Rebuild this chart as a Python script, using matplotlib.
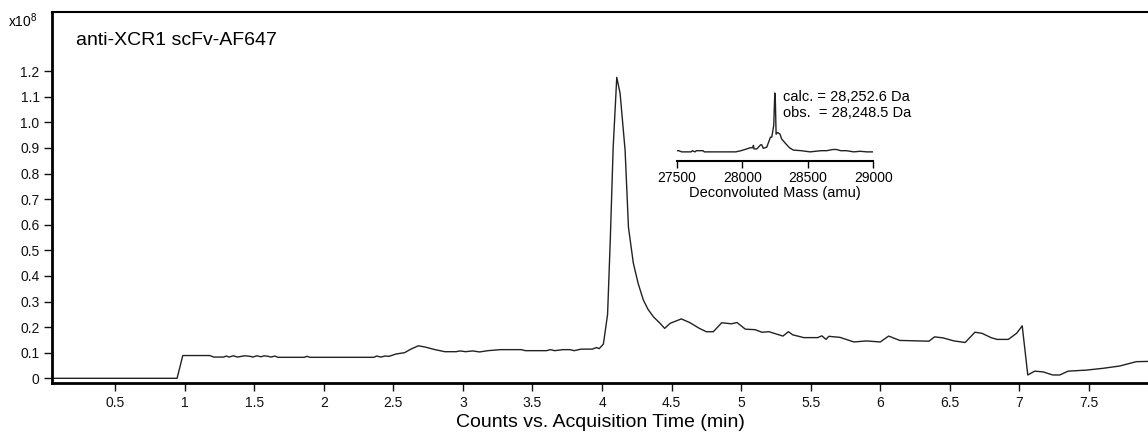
import numpy as np
import matplotlib
matplotlib.use("Agg")
import matplotlib.pyplot as plt

plt.rcParams['font.family'] = ['Liberation Sans', 'DejaVu Sans']
plt.rcParams['mathtext.default'] = 'regular'

# chromatogram (time in min, counts in 1e8)
tempo = [0.047, 0.946, 0.987, 1.18, 1.21, 1.28, 1.30, 1.32, 1.35, 1.38, 1.43, 1.47, 1.49,
         1.52, 1.55, 1.57, 1.60, 1.62, 1.65, 1.67, 1.86, 1.88, 1.90, 2.36, 2.38, 2.41, 2.44,
         2.47, 2.52, 2.58, 2.63, 2.68, 2.73, 2.80, 2.87, 2.95, 2.98, 3.02, 3.07, 3.12, 3.18,
         3.27, 3.42, 3.45, 3.60, 3.63, 3.66, 3.72, 3.77, 3.80, 3.85, 3.93, 3.96, 3.98, 4.01,
         4.04, 4.06, 4.08, 4.106, 4.13, 4.166, 4.19, 4.225, 4.26, 4.297, 4.33, 4.37, 4.417,
         4.45, 4.49, 4.57, 4.63, 4.70, 4.75, 4.80, 4.86, 4.93, 4.97, 5.03, 5.10, 5.15, 5.20,
         5.30, 5.34, 5.37, 5.45, 5.55, 5.58, 5.61, 5.63, 5.71, 5.81, 5.90, 6.00, 6.06, 6.14,
         6.35, 6.39, 6.45, 6.53, 6.61, 6.68, 6.73, 6.80, 6.84, 6.92, 6.98, 7.02, 7.06, 7.11,
         7.17, 7.24, 7.29, 7.35, 7.48, 7.60, 7.72, 7.84, 7.924]
conteggi = [0.0, 0.0, 0.089, 0.089, 0.083, 0.083, 0.087, 0.083, 0.088, 0.083, 0.088, 0.086, 0.083,
            0.088, 0.084, 0.088, 0.086, 0.083, 0.087, 0.082, 0.082, 0.086, 0.082, 0.082, 0.087, 0.083, 0.087,
            0.086, 0.095, 0.100, 0.115, 0.127, 0.122, 0.112, 0.104, 0.104, 0.107, 0.104, 0.107, 0.103, 0.108,
            0.112, 0.112, 0.108, 0.108, 0.112, 0.108, 0.112, 0.112, 0.108, 0.114, 0.114, 0.120, 0.116, 0.134,
            0.25, 0.55, 0.90, 1.176, 1.113, 0.89, 0.59, 0.45, 0.37, 0.306, 0.27, 0.24, 0.215,
            0.195, 0.215, 0.232, 0.218, 0.195, 0.182, 0.182, 0.217, 0.213, 0.218, 0.192, 0.190, 0.180, 0.182,
            0.165, 0.182, 0.170, 0.159, 0.159, 0.166, 0.152, 0.164, 0.160, 0.142, 0.146, 0.142, 0.165, 0.148,
            0.145, 0.162, 0.158, 0.146, 0.140, 0.180, 0.176, 0.158, 0.152, 0.152, 0.176, 0.205, 0.013, 0.028,
            0.025, 0.013, 0.013, 0.028, 0.032, 0.039, 0.048, 0.065, 0.066]

# deconvoluted spectrum (relative intensity)
massa = [27500, 27515, 27538, 27610, 27620, 27640, 27650, 27700, 27711, 27950, 27990, 28034, 28060,
         28080, 28085, 28090, 28111, 28140, 28149, 28160, 28187, 28215, 28225, 28240, 28248, 28252,
         28258, 28270, 28288, 28300, 28327, 28360, 28390, 28450, 28517, 28600, 28644, 28690, 28720,
         28750, 28796, 28850, 28898, 28950, 29000]
intensita = [0.02, 0.02, 0.0, 0.0, 0.02, 0.0, 0.02, 0.02, 0.0, 0.0, 0.02, 0.05, 0.07,
             0.07, 0.11, 0.05, 0.05, 0.12, 0.12, 0.06, 0.08, 0.25, 0.25, 0.45, 1.0, 0.9,
             0.3, 0.33, 0.3, 0.22, 0.15, 0.07, 0.03, 0.02, 0.0, 0.02, 0.02, 0.04, 0.04,
             0.02, 0.02, 0.0, 0.01, 0.0, 0.0]

tick_x = [0.5, 1, 1.5, 2, 2.5, 3, 3.5, 4, 4.5, 5, 5.5, 6, 6.5, 7, 7.5]
etichette_x = ['0.5', '1', '1.5', '2', '2.5', '3', '3.5', '4', '4.5', '5', '5.5', '6', '6.5', '7', '7.5']
tick_y = [0, 0.1, 0.2, 0.3, 0.4, 0.5, 0.6, 0.7, 0.8, 0.9, 1.0, 1.1, 1.2]
etichette_y = ['0', '0.1', '0.2', '0.3', '0.4', '0.5', '0.6', '0.7', '0.8', '0.9', '1.0', '1.1', '1.2']
tick_massa = [27500, 28000, 28500, 29000]

colore = '#222222'

fig = plt.figure(figsize=(11.48, 4.36), dpi=100)
ax = fig.add_axes([52/1148, 1 - 383.3/436, 1096/1148, 371/436])
ax.plot(tempo, conteggi, color=colore, lw=1.0)
ax.set_xlim(0.047, 7.924)
ax.set_ylim(-0.0195, 1.43)
ax.set_xticks(tick_x)
ax.set_xticklabels(etichette_x)
ax.set_yticks(tick_y)
ax.set_yticklabels(etichette_y)
ax.tick_params(axis='both', direction='out', length=6, width=1, labelsize=10, colors='#111111', pad=3)
ax.spines['right'].set_visible(False)
ax.spines['left'].set_linewidth(2)
ax.spines['bottom'].set_linewidth(2)
ax.spines['top'].set_linewidth(1.5)
ax.set_xlabel('Counts vs. Acquisition Time (min)', fontsize=14, labelpad=3)
ax.text(0.022, 0.925, 'anti-XCR1 scFv-AF647', transform=ax.transAxes, fontsize=14, va='center')
fig.text(8/1148, 1 - 21/436, 'x10$^{8}$', fontsize=10, va='center')

# inset
ins = fig.add_axes([676.7/1148, 1 - 161/436, 196.7/1148, 69/436])
ins.plot(massa, intensita, color=colore, lw=1.0)
ins.set_xlim(27500, 29000)
ins.set_ylim(-0.155, 1.017)
ins.set_xticks(tick_massa)
ins.set_yticks([])
for s in ['top', 'right', 'left']:
    ins.spines[s].set_visible(False)
ins.spines['bottom'].set_linewidth(1.5)
ins.tick_params(axis='x', direction='out', length=5, width=1, labelsize=10, pad=2)
ins.patch.set_alpha(0)
ins.set_xlabel('Deconvoluted Mass (amu)', fontsize=10.5, labelpad=1)

fig.text(783/1148, 1 - 96.7/436, 'calc. = 28,252.6 Da', fontsize=10.5, va='center')
fig.text(783/1148, 1 - 113.3/436, 'obs.  = 28,248.5 Da', fontsize=10.5, va='center')

fig.savefig('out.png', dpi=100)
